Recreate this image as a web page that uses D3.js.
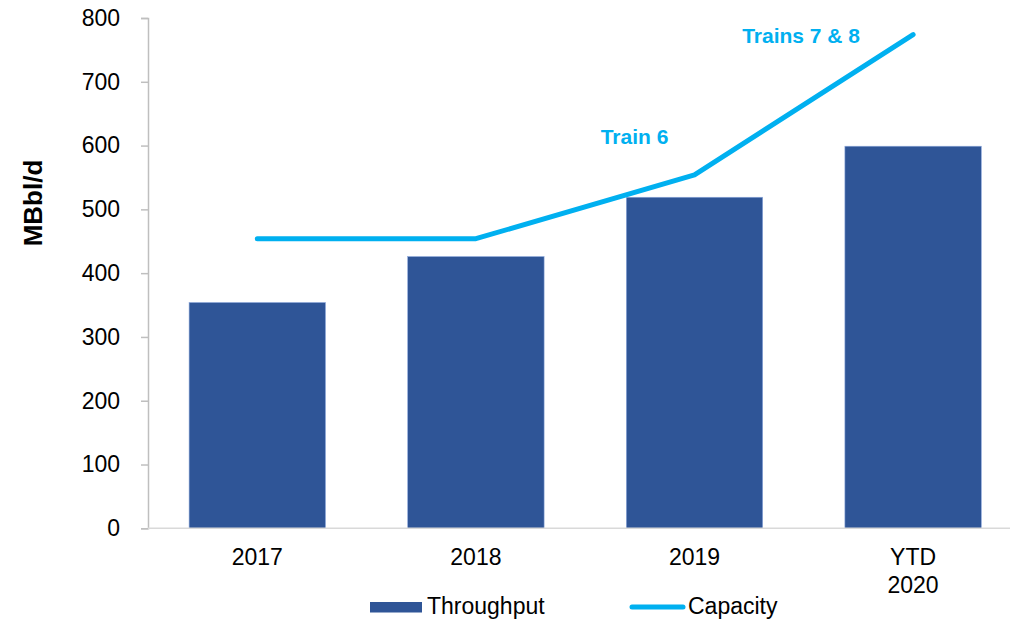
<!DOCTYPE html>
<html>
<head>
<meta charset="utf-8">
<script src="https://cdn.jsdelivr.net/npm/d3@7"></script>
<style>
  body { margin: 0; background: #fff; }
  text { font-family: "Liberation Sans", Arial, sans-serif; }
</style>
</head>
<body>
<div id="chart-area"></div>
<script>
// data
var categories = ["2017", "2018", "2019", "YTD 2020"];
var throughput = [354, 426, 519, 599];
var capacity = [454, 454, 554, 774];
var yTicks = [0, 100, 200, 300, 400, 500, 600, 700, 800];
var notes = [
  {cat: "2019", text: "Train 6"},
  {cat: "YTD 2020", text: "Trains 7 & 8"}
];

var margin = {top: 18, right: 0, bottom: 92, left: 148},
    width = 1010 - margin.left - margin.right,
    height = 620 - margin.top - margin.bottom;

var svg = d3.select("#chart-area").append("svg")
    .attr("width", 1010)
    .attr("height", 620);
var g = svg.append("g")
    .attr("transform", "translate(" + margin.left + "," + margin.top + ")");

// Scales
var x = d3.scaleBand()
    .domain(categories)
    .range([0, 874.4])
    .paddingInner(0.376)
    .paddingOuter(0.188);
var y = d3.scaleLinear().domain([0, 800]).range([510.3, 0]);
var y0 = y(0);

// y axis
var yAxis = g.append("g")
    .call(d3.axisLeft(y).tickValues(yTicks).tickSize(7).tickPadding(21));
yAxis.select(".domain").attr("stroke", "#bfbfbf").attr("stroke-width", 1.5);
yAxis.selectAll(".tick line").attr("stroke", "#bfbfbf").attr("stroke-width", 1.5);
yAxis.selectAll(".tick text")
    .attr("font-size", 23)
    .attr("fill", "#000")
    .style("font-family", "Liberation Sans, Arial, sans-serif");

// y title
g.append("text")
    .attr("transform", "rotate(-90)")
    .attr("x", -185)
    .attr("y", -106)
    .attr("text-anchor", "middle")
    .attr("font-size", 26)
    .attr("font-weight", "bold")
    .text("MBbl/d");

// bars
g.selectAll(".bar")
    .data(throughput)
    .enter().append("rect")
    .attr("class", "bar")
    .attr("x", (d, i) => x(categories[i]))
    .attr("y", (d) => y(d))
    .attr("width", x.bandwidth())
    .attr("height", (d) => y0 - y(d))
    .attr("fill", "#2f5597")
    .attr("stroke", "#8faadc")
    .attr("stroke-width", 0.6);

// x axis line
g.append("line")
    .attr("x1", 0).attr("x2", width + 20)
    .attr("y1", y0).attr("y2", y0)
    .attr("stroke", "#d9d9d9")
    .attr("stroke-width", 1.5);

// x labels
var xl = g.selectAll(".xlab")
    .data(categories)
    .enter().append("text")
    .attr("class", "xlab")
    .attr("text-anchor", "middle")
    .attr("font-size", 23)
    .attr("x", (d) => x(d) + x.bandwidth() / 2)
    .attr("y", y0 + 37);
xl.each(function(d) {
    var parts = d.split(" ");
    var t = d3.select(this);
    parts.forEach((p, k) => {
        t.append("tspan")
            .attr("x", t.attr("x"))
            .attr("dy", k === 0 ? 0 : 28)
            .text(p);
    });
});

// capacity line
var line = d3.line()
    .x((d, i) => x(categories[i]) + x.bandwidth() / 2)
    .y((d) => y(d));
g.append("path")
    .datum(capacity)
    .attr("fill", "none")
    .attr("stroke", "#00b0f0")
    .attr("stroke-width", 5)
    .attr("stroke-linecap", "round")
    .attr("stroke-linejoin", "round")
    .attr("d", line);

// annotations
g.selectAll(".note")
    .data(notes)
    .enter().append("text")
    .attr("class", "note")
    .attr("text-anchor", "middle")
    .attr("font-size", 21)
    .attr("font-weight", "bold")
    .attr("fill", "#00b0f0")
    .attr("x", (d) => x(d.cat) + x.bandwidth() / 2 - (d.cat === "2019" ? 60 : 112))
    .attr("y", (d) => d.cat === "2019" ? 126 : 25)
    .text((d) => d.text);

// legend
var legend = svg.append("g");
legend.append("rect")
    .attr("x", 370).attr("y", 602)
    .attr("width", 52).attr("height", 10.5)
    .attr("fill", "#2f5597");
legend.append("text")
    .attr("x", 427).attr("y", 613.5)
    .attr("font-size", 23)
    .text("Throughput");
legend.append("line")
    .attr("x1", 632).attr("x2", 683)
    .attr("y1", 607).attr("y2", 607)
    .attr("stroke", "#00b0f0")
    .attr("stroke-width", 5)
    .attr("stroke-linecap", "round");
legend.append("text")
    .attr("x", 688).attr("y", 613.5)
    .attr("font-size", 23)
    .text("Capacity");
</script>
</body>
</html>
